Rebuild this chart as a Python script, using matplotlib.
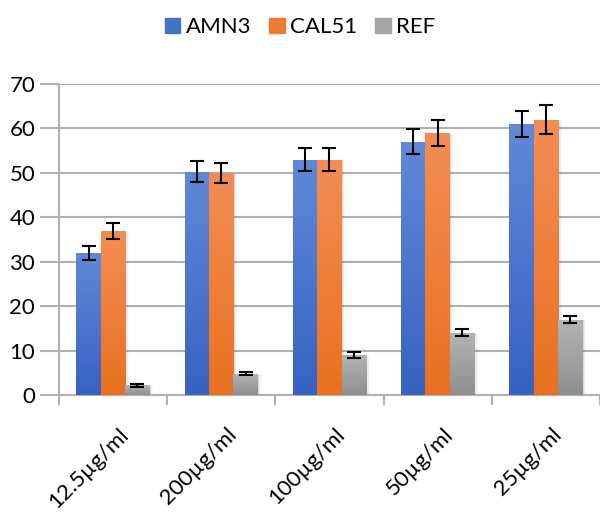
import numpy as np
import matplotlib
matplotlib.use('Agg')
import matplotlib.pyplot as plt
from matplotlib.colors import LinearSegmentedColormap
from matplotlib.patches import Rectangle

plt.rcParams['font.family'] = ['Lato', 'DejaVu Sans']

categories = ['12.5µg/ml', '200µg/ml', '100µg/ml', '50µg/ml', '25µg/ml']
series = ['AMN3', 'CAL51', 'REF']
amn3 = [32, 50.3, 53, 57, 61]
amn3_err = [1.6, 2.4, 2.6, 2.8, 3.0]
cal51 = [37, 50, 53, 59, 62]
cal51_err = [1.8, 2.3, 2.6, 3.0, 3.2]
ref = [2.2, 4.8, 9, 14, 17]
ref_err = [0.3, 0.3, 0.7, 0.8, 0.8]

# top colour, bottom colour
grad = [('#6189d8', '#3762c2'), ('#f38d55', '#e97120'), ('#b4b4b4', '#8f8f8f')]
solid = ['#4472c4', '#ed7d31', '#a5a5a5']

fig = plt.figure(figsize=(6, 5.22), dpi=100)
ax = fig.add_axes([0.098, 0.243, 0.902, 0.596])

x = np.arange(len(categories))
w = 0.225
data = [(amn3, amn3_err), (cal51, cal51_err), (ref, ref_err)]

for i, (vals, errs) in enumerate(data):
    cmap = LinearSegmentedColormap.from_list('g%d' % i, [grad[i][1], grad[i][0]])
    xs = x + (i - 1) * w
    for xc, v in zip(xs, vals):
        # soft shadow on the right
        for k, a in enumerate([0.10, 0.06, 0.03]):
            ax.add_patch(Rectangle((xc - w / 2 + 0.012 * (k + 1), 0), w, v - 0.2,
                                   color='#404040', alpha=a, lw=0, zorder=2))
        img = np.linspace(0, 1, 100).reshape(-1, 1)
        im = ax.imshow(img, cmap=cmap, origin='lower', aspect='auto',
                       extent=[xc - w / 2, xc + w / 2, 0, v], zorder=3)
        clip = Rectangle((xc - w / 2, 0), w, v, transform=ax.transData)
        im.set_clip_path(clip)
    ax.errorbar(xs, vals, yerr=errs, fmt='none', ecolor='black', elinewidth=1.5,
                capsize=5, capthick=1.5, zorder=4)

ax.set_xlim(-0.5, len(categories) - 0.5)
ax.set_ylim(0, 70)

ax.set_yticks(range(0, 71, 10))
ax.yaxis.grid(True, color='#b0b0b0', lw=1.5)
ax.set_axisbelow(True)
ax.tick_params(axis='y', length=14, color='#b0b0b0', width=1.5, labelsize=16, pad=3)

ax.set_xticks(np.arange(-0.5, len(categories)), labels=[])
ax.set_xticks(x + 0.05, labels=categories, minor=True)
ax.tick_params(axis='x', which='major', length=7, color='#b0b0b0', width=1.5)
ax.tick_params(axis='x', which='minor', length=0, labelsize=16, pad=21)
for lab in ax.get_xticklabels(minor=True):
    lab.set_rotation(45)
    lab.set_ha('right')
    lab.set_rotation_mode('anchor')

for s in ['top', 'right']:
    ax.spines[s].set_visible(False)
ax.spines['left'].set_color('#b0b0b0')
ax.spines['left'].set_linewidth(1.5)
ax.spines['bottom'].set_color('#b0b0b0')
ax.spines['bottom'].set_linewidth(1.5)

handles = [Rectangle((0, 0), 1, 1, color=c) for c in solid]
fig.legend(handles, series, loc='upper center', bbox_to_anchor=(0.5, 1.005), ncol=3,
           frameon=False, fontsize=16, handlelength=0.7, handleheight=0.7,
           handletextpad=0.25, columnspacing=0.8)

fig.savefig('out.png', dpi=100)
